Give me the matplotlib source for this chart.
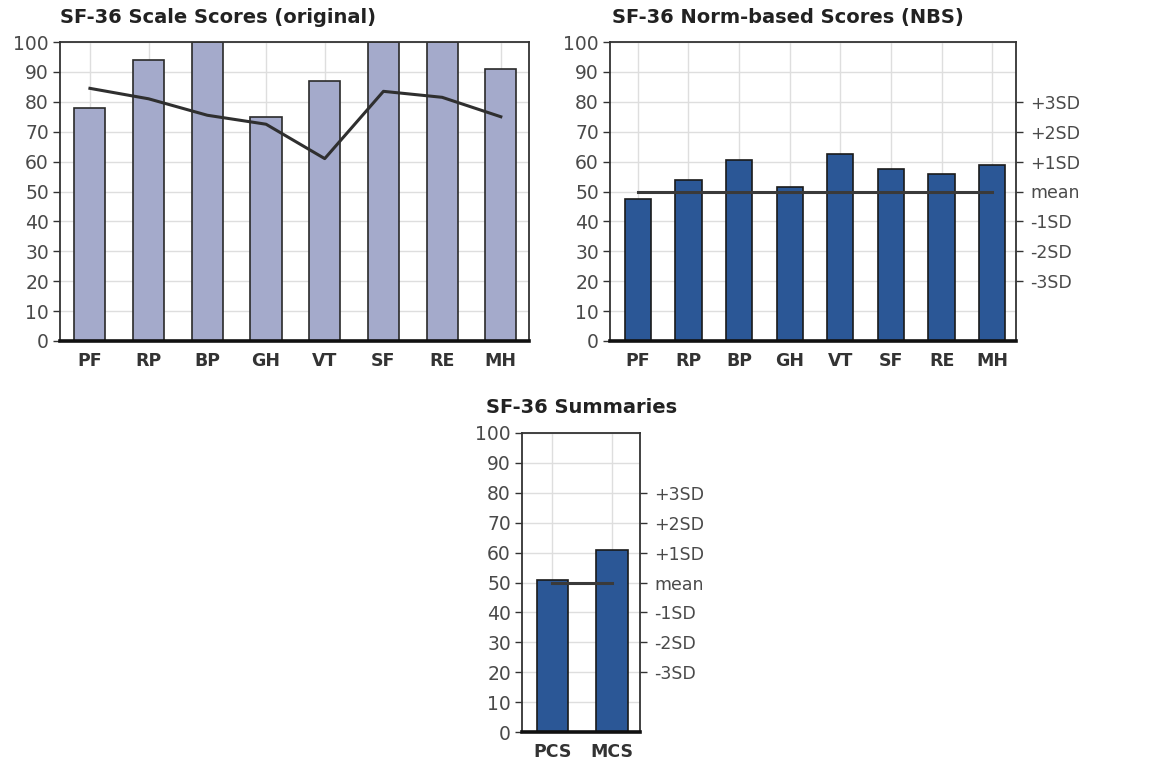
import matplotlib
matplotlib.use("Agg")
import matplotlib.pyplot as plt

# ---- data ----
scales = ["PF", "RP", "BP", "GH", "VT", "SF", "RE", "MH"]
scale_scores = [78, 94, 100, 75, 87, 100, 100, 91]
scale_norm_line = [84.5, 81, 75.5, 72.5, 61, 83.5, 81.5, 75]
nbs_scores = [47.5, 54, 60.5, 51.5, 62.5, 57.5, 56, 59]
nbs_mean = [50] * 8
summaries = ["PCS", "MCS"]
summary_scores = [51, 61]
summary_mean = [50, 50]
y_ticks = list(range(0, 101, 10))
sd_ticks = [20, 30, 40, 50, 60, 70, 80]
sd_labels = ["-3SD", "-2SD", "-1SD", "mean", "+1SD", "+2SD", "+3SD"]

W, H = 1166, 765
fig = plt.figure(figsize=(W / 100, H / 100), dpi=100)
plt.rcParams['font.family'] = ['DejaVu Sans']

LIGHT = "#A4AACB"
DARK = "#2B5796"
GRID = "#DEDEDE"
TICKC = "#4a4a4a"


def px_axes(l, r, t, b):
    return fig.add_axes([l / W, (H - b) / H, (r - l) / W, (b - t) / H])


def style(ax, cats, xlim, right_sd=False):
    ax.set_ylim(0, 100)
    ax.set_xlim(*xlim)
    ax.set_yticks(y_ticks)
    ax.set_yticklabels([str(v) for v in y_ticks], fontsize=13.5, color=TICKC)
    ax.set_xticks(range(len(cats)))
    ax.set_xticklabels(cats, fontsize=12.5, fontweight="bold", color="#333333")
    ax.tick_params(axis="x", length=0, pad=8)
    ax.tick_params(axis="y", length=5, width=1, color="#333333", pad=3, direction="out")
    ax.grid(True, color=GRID, linewidth=1)
    ax.set_axisbelow(True)
    for s in ["left", "right", "top"]:
        ax.spines[s].set_color("#333333")
        ax.spines[s].set_linewidth(1.3)
    ax.spines["bottom"].set_color("#111111")
    ax.spines["bottom"].set_linewidth(2.6)
    if right_sd:
        ax2 = ax.twinx()
        ax2.set_ylim(0, 100)
        ax2.set_yticks(sd_ticks)
        ax2.set_yticklabels(sd_labels, fontsize=12.5, color=TICKC)
        ax2.tick_params(axis="y", length=5, width=1, color="#333333", pad=5, direction="out")
        for s in ax2.spines.values():
            s.set_visible(False)


# Chart 1
ax1 = px_axes(60, 529, 42, 341)
x1 = range(len(scales))
ax1.bar(x1, scale_scores, width=0.53, color=LIGHT, edgecolor="#2a2a2a", linewidth=1.2, zorder=2)
ax1.plot(x1, scale_norm_line, color="#2f2f2f", linewidth=2.2, zorder=3)
style(ax1, scales, (-0.51, 7.48))

# Chart 2
ax2 = px_axes(610, 1016, 42, 341)
ax2.bar(x1, nbs_scores, width=0.52, color=DARK, edgecolor="#1a1a1a", linewidth=1.2, zorder=2)
ax2.plot(x1, nbs_mean, color="#3a3a3a", linewidth=2.2, zorder=3)
style(ax2, scales, (-0.55, 7.47), right_sd=True)

# Chart 3
ax3 = px_axes(522, 640, 433, 732)
x3 = range(len(summaries))
ax3.bar(x3, summary_scores, width=0.53, color=DARK, edgecolor="#1a1a1a", linewidth=1.2, zorder=2)
ax3.plot(x3, summary_mean, color="#3a3a3a", linewidth=2.2, zorder=3)
style(ax3, summaries, (-0.51, 1.47), right_sd=True)

# Titles
tkw = dict(fontsize=14, fontweight="bold", color="#222222", va="baseline")
fig.text(60 / W, (H - 23) / H, "SF-36 Scale Scores (original)", ha="left", **tkw)
fig.text(612 / W, (H - 23) / H, "SF-36 Norm-based Scores (NBS)", ha="left", **tkw)
fig.text(582 / W, (H - 413) / H, "SF-36 Summaries", ha="center", **tkw)

fig.savefig("out.png", dpi=100)
